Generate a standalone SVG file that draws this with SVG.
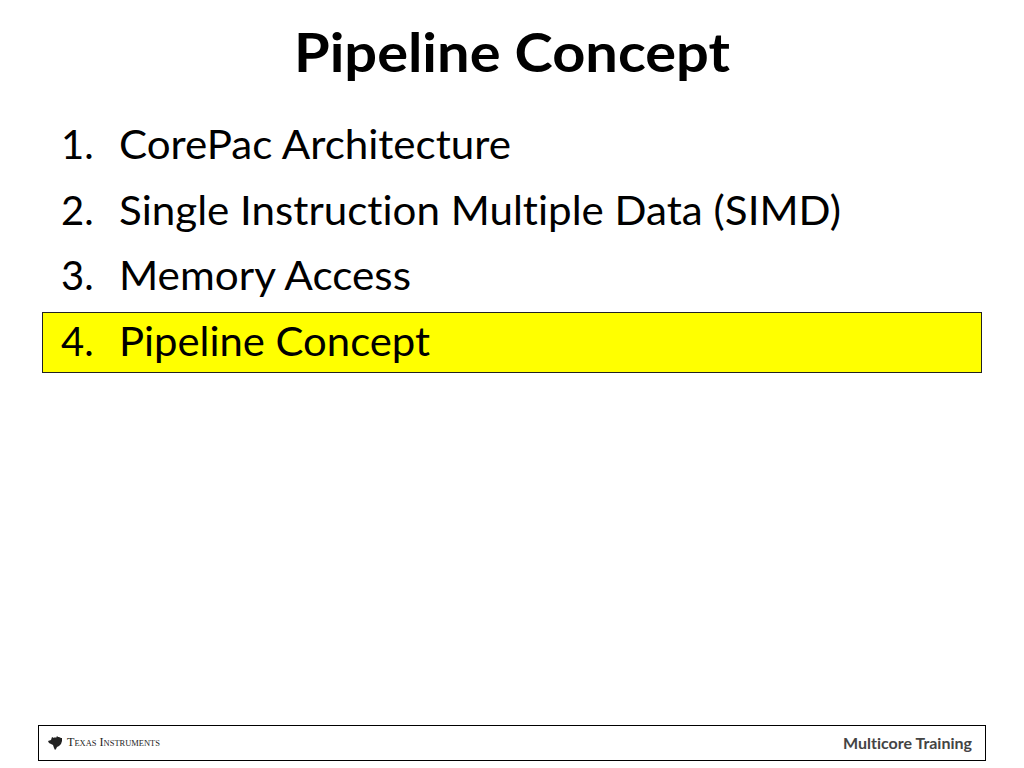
<svg xmlns="http://www.w3.org/2000/svg" width="1024" height="768" viewBox="0 0 1024 768">
<style>
.t{font-family:"Lato","Open Sans","Liberation Sans",sans-serif;fill:#000;font-variant-ligatures:none}
.i{font-size:40px}
</style>
<rect width="1024" height="768" fill="#fff"/>
<text id="title" class="t" x="294" y="72" font-size="53" font-weight="700" textLength="436" lengthAdjust="spacingAndGlyphs">Pipeline Concept</text>
<rect id="highlight" x="42.500" y="312.500" width="939" height="60" fill="#ff0" stroke="#222" stroke-width="1"/>
<g id="item1"><text class="t i" x="61" y="159">1.</text><text class="t i" x="119" y="159" textLength="392" lengthAdjust="spacingAndGlyphs">CorePac Architecture</text></g>
<g id="item2"><text class="t i" x="61" y="225">2.</text><text class="t i" x="119" y="225" textLength="722" lengthAdjust="spacingAndGlyphs">Single Instruction Multiple Data (SIMD)</text></g>
<g id="item3"><text class="t i" x="61" y="290">3.</text><text class="t i" x="119" y="290" textLength="292" lengthAdjust="spacingAndGlyphs">Memory Access</text></g>
<g id="item4"><text class="t i" x="61" y="356">4.</text><text class="t i" x="119" y="356" textLength="311" lengthAdjust="spacingAndGlyphs">Pipeline Concept</text></g>
<g id="footer">
<rect x="38.500" y="725.500" width="947" height="35" fill="#fff" stroke="#000" stroke-width="1"/>
<path id="ti-logo" d="M48 741l3-1 1-3 2 1 1-1 1 1 1-2 1 1 1 0 2 1 1 0 0 3-1 3-2 2-2 1-1 2-1 1-1-2-1-3-2-1-2-1z" fill="#222"/>
<text x="67" y="746" font-family="Liberation Serif,serif" font-size="11.500" font-variant="small-caps" fill="#222" textLength="93" lengthAdjust="spacingAndGlyphs">Texas Instruments</text>
<text x="843" y="749" font-family="Lato,sans-serif" font-size="15.500" font-weight="700" fill="#444" textLength="129" lengthAdjust="spacingAndGlyphs" style="font-variant-ligatures:none">Multicore Training</text>
</g>
</svg>
